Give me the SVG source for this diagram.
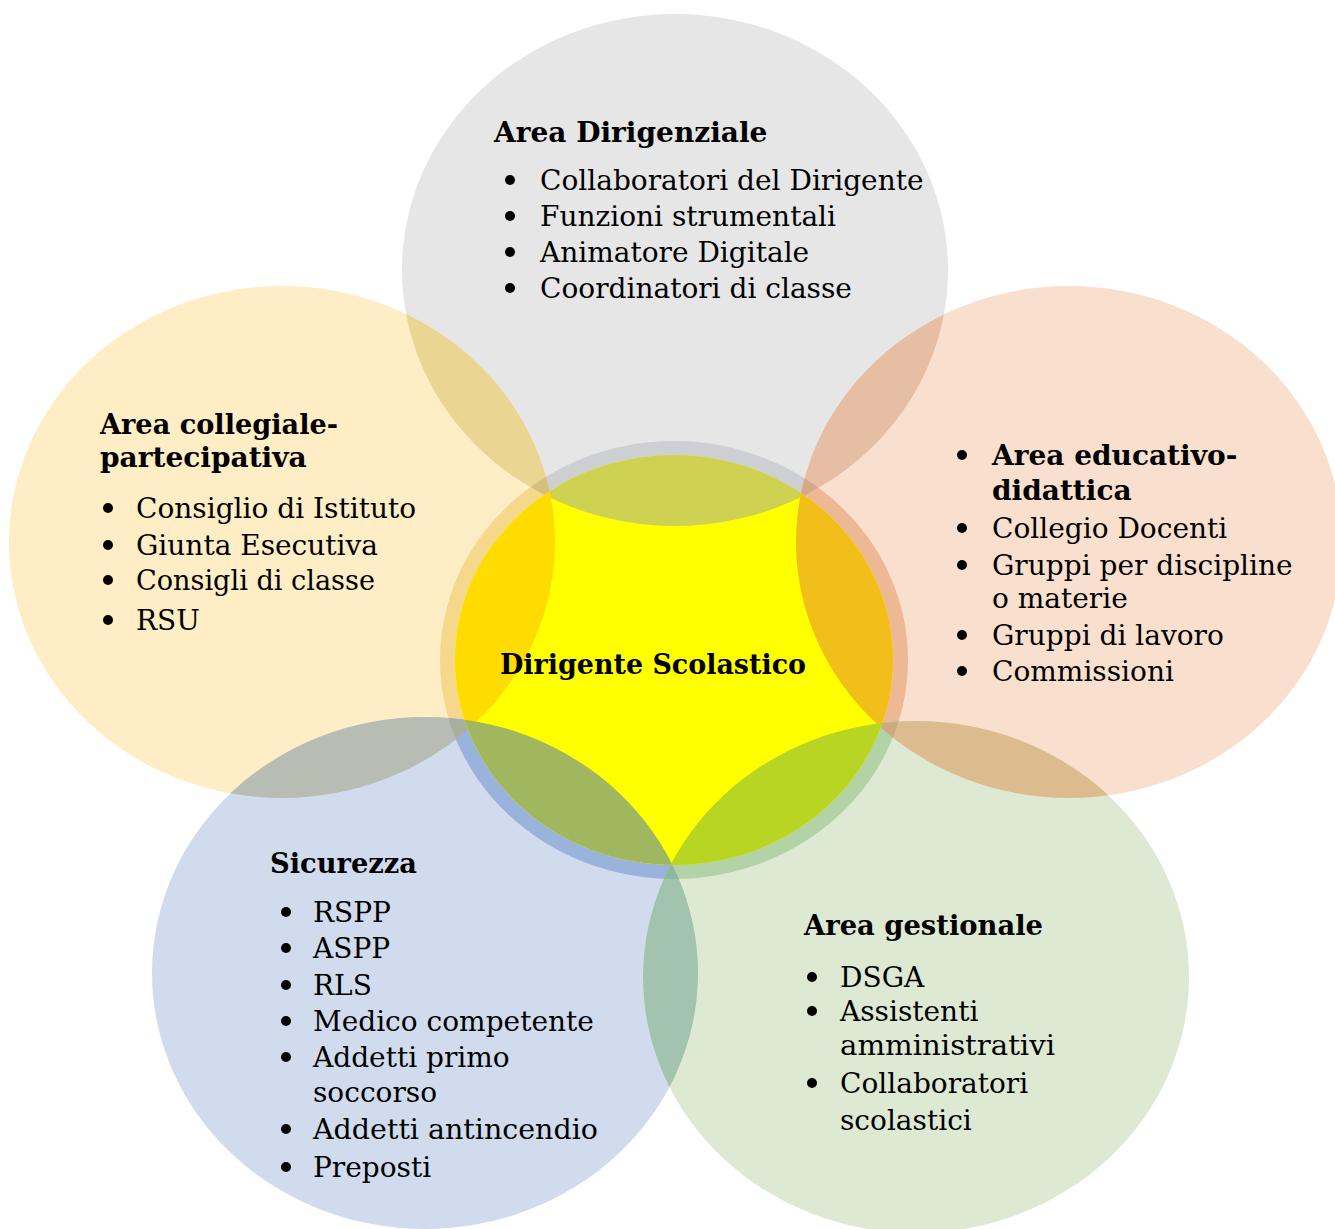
<svg xmlns="http://www.w3.org/2000/svg" width="1335" height="1229" viewBox="0 0 1335 1229">
<style>
.t{font-family:"DejaVu Serif","Liberation Serif",serif;font-size:28px;fill:#000}
.b{font-weight:bold}
.bu{fill:#000}
</style>
<defs>
<clipPath id="cT"><ellipse cx="675" cy="270" rx="273" ry="256"/></clipPath>
<clipPath id="cL"><ellipse cx="282" cy="542" rx="273" ry="256"/></clipPath>
<clipPath id="cR"><ellipse cx="1069" cy="542" rx="273" ry="256"/></clipPath>
<clipPath id="cBL"><ellipse cx="425" cy="973" rx="273" ry="256"/></clipPath>
<clipPath id="cBR"><ellipse cx="916" cy="977" rx="273" ry="256"/></clipPath>
<clipPath id="cRing"><ellipse cx="674" cy="660" rx="234" ry="219"/></clipPath>
<clipPath id="cCore"><ellipse cx="674" cy="660" rx="219" ry="205"/></clipPath>
</defs>
<rect width="1335" height="1229" fill="#ffffff"/>

<g id="area-dirigenziale">
<ellipse cx="675" cy="270" rx="273" ry="256" fill="#E6E6E6"/>
<text class="t b" x="494" y="142">Area Dirigenziale</text>
<circle class="bu" cx="510" cy="180" r="5"/>
<circle class="bu" cx="510" cy="216" r="5"/>
<circle class="bu" cx="510" cy="252" r="5"/>
<circle class="bu" cx="510" cy="288" r="5"/>
<text class="t" x="540" y="190">Collaboratori del Dirigente</text>
<text class="t" x="540" y="226">Funzioni strumentali</text>
<text class="t" x="540" y="262">Animatore Digitale</text>
<text class="t" x="540" y="298">Coordinatori di classe</text>
</g>

<g id="area-collegiale">
<ellipse cx="282" cy="542" rx="273" ry="256" fill="#FEEDC5"/>
<text class="t b" x="100" y="434" textLength="238" lengthAdjust="spacingAndGlyphs">Area collegiale-</text>
<text class="t b" x="100" y="467">partecipativa</text>
<circle class="bu" cx="108" cy="508" r="5"/>
<circle class="bu" cx="108" cy="545" r="5"/>
<circle class="bu" cx="108" cy="580" r="5"/>
<circle class="bu" cx="108" cy="620" r="5"/>
<text class="t" x="136" y="518">Consiglio di Istituto</text>
<text class="t" x="136" y="555">Giunta Esecutiva</text>
<text class="t" x="136" y="590" textLength="239" lengthAdjust="spacingAndGlyphs">Consigli di classe</text>
<text class="t" x="136" y="630">RSU</text>
</g>

<g id="area-educativo">
<ellipse cx="1069" cy="542" rx="273" ry="256" fill="#F9DFCD"/>
<circle class="bu" cx="962" cy="455" r="5"/>
<text class="t b" x="992" y="465">Area educativo-</text>
<text class="t b" x="992" y="500">didattica</text>
<circle class="bu" cx="962" cy="528" r="5"/>
<circle class="bu" cx="962" cy="565" r="5"/>
<circle class="bu" cx="962" cy="635" r="5"/>
<circle class="bu" cx="962" cy="671" r="5"/>
<text class="t" x="992" y="538">Collegio Docenti</text>
<text class="t" x="992" y="575">Gruppi per discipline</text>
<text class="t" x="992" y="608">o materie</text>
<text class="t" x="992" y="645">Gruppi di lavoro</text>
<text class="t" x="992" y="681">Commissioni</text>
</g>

<g id="sicurezza">
<ellipse cx="425" cy="973" rx="273" ry="256" fill="#D0DCEE"/>
<text class="t b" x="270" y="873" textLength="147" lengthAdjust="spacingAndGlyphs">Sicurezza</text>
<circle class="bu" cx="286" cy="912" r="5"/>
<circle class="bu" cx="286" cy="948" r="5"/>
<circle class="bu" cx="286" cy="985" r="5"/>
<circle class="bu" cx="286" cy="1021" r="5"/>
<circle class="bu" cx="286" cy="1057" r="5"/>
<circle class="bu" cx="286" cy="1129" r="5"/>
<circle class="bu" cx="286" cy="1167" r="5"/>
<text class="t" x="313" y="922">RSPP</text>
<text class="t" x="313" y="958">ASPP</text>
<text class="t" x="313" y="995">RLS</text>
<text class="t" x="313" y="1031">Medico competente</text>
<text class="t" x="313" y="1067">Addetti primo</text>
<text class="t" x="313" y="1102">soccorso</text>
<text class="t" x="313" y="1139" textLength="285" lengthAdjust="spacingAndGlyphs">Addetti antincendio</text>
<text class="t" x="313" y="1177">Preposti</text>
</g>

<g id="area-gestionale">
<ellipse cx="916" cy="977" rx="273" ry="256" fill="#DEE9D4"/>
<text class="t b" x="804" y="935" textLength="239" lengthAdjust="spacingAndGlyphs">Area gestionale</text>
<circle class="bu" cx="812" cy="977" r="5"/>
<circle class="bu" cx="812" cy="1011" r="5"/>
<circle class="bu" cx="812" cy="1083" r="5"/>
<text class="t" x="840" y="987">DSGA</text>
<text class="t" x="840" y="1021">Assistenti</text>
<text class="t" x="840" y="1055" textLength="215" lengthAdjust="spacingAndGlyphs">amministrativi</text>
<text class="t" x="840" y="1093">Collaboratori</text>
<text class="t" x="840" y="1130">scolastici</text>
</g>

<g id="overlaps">
<g clip-path="url(#cT)">
<ellipse cx="282" cy="542" rx="273" ry="256" fill="#EAD592"/>
<ellipse cx="1069" cy="542" rx="273" ry="256" fill="#E6BEA3"/>
</g>
<g clip-path="url(#cBL)">
<ellipse cx="282" cy="542" rx="273" ry="256" fill="#B7BDB2"/>
<ellipse cx="916" cy="977" rx="273" ry="256" fill="#A2C3AE"/>
</g>
<g clip-path="url(#cBR)">
<ellipse cx="1069" cy="542" rx="273" ry="256" fill="#DCBC8E"/>
</g>
<g clip-path="url(#cRing)">
<ellipse cx="675" cy="270" rx="273" ry="256" fill="#CDCFD2"/>
<ellipse cx="282" cy="542" rx="273" ry="256" fill="#F5D88C"/>
<ellipse cx="1069" cy="542" rx="273" ry="256" fill="#EDB894"/>
<ellipse cx="425" cy="973" rx="273" ry="256" fill="#9AB3DC"/>
<ellipse cx="916" cy="977" rx="273" ry="256" fill="#B3D3A6"/>
<g clip-path="url(#cT)">
<ellipse cx="282" cy="542" rx="273" ry="256" fill="#D8BE7E"/>
<ellipse cx="1069" cy="542" rx="273" ry="256" fill="#D4A888"/>
</g>
<g clip-path="url(#cBL)">
<ellipse cx="282" cy="542" rx="273" ry="256" fill="#A8AFA0"/>
<ellipse cx="916" cy="977" rx="273" ry="256" fill="#8FB69E"/>
</g>
<g clip-path="url(#cBR)">
<ellipse cx="1069" cy="542" rx="273" ry="256" fill="#CBAA80"/>
</g>
</g>
</g>

<g id="dirigente-scolastico">
<ellipse cx="674" cy="660" rx="219" ry="205" fill="#FFFF00"/>
<g clip-path="url(#cCore)">
<ellipse cx="675" cy="270" rx="273" ry="256" fill="#CFD152"/>
<ellipse cx="282" cy="542" rx="273" ry="256" fill="#FFDC00"/>
<ellipse cx="1069" cy="542" rx="273" ry="256" fill="#F2BE1A"/>
<ellipse cx="425" cy="973" rx="273" ry="256" fill="#A0B760"/>
<ellipse cx="916" cy="977" rx="273" ry="256" fill="#B9D524"/>
</g>
<text class="t b" x="500" y="674" textLength="306" lengthAdjust="spacingAndGlyphs">Dirigente Scolastico</text>
</g>
</svg>
